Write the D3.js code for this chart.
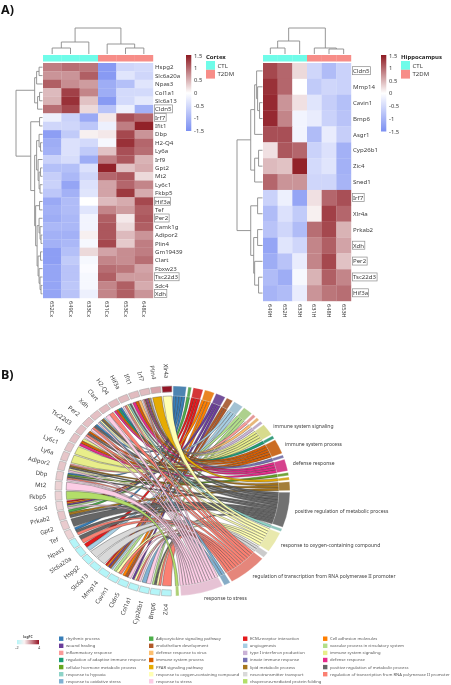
<!DOCTYPE html>
<html><head><meta charset="utf-8">
<script src="https://cdn.jsdelivr.net/npm/d3@7/dist/d3.min.js"></script>
<style>html,body{margin:0;padding:0;background:#fff}svg{display:block;filter:blur(.35px)}text{font-family:"Noto Sans","Open Sans",sans-serif}</style>
</head><body><svg id="c" width="451" height="685"></svg>
<script>
// ---------- Panel A data ----------
const cortexGenes=["Hspg2","Slc6a20a","Npas3","Col1a1","Slc6a13","Cldn5","Irf7","Ifit1","Dbp","H2-Q4","Ly6a","Irf9","Gpt2","Mt2","Ly6c1","Fkbp5","Hif3a","Tef","Per2","Camk1g","Adipor2","Plin4","Gm19439","Clart","Fbxw23","Tsc22d3","Sdc4","Xdh"];
const cortexSamples=["652Cx","649Cx","633Cx","631Cx","653Cx","648Cx"];
const cortexValues=[
[.85,.95,.9,-1.35,-.55,-.5],[.7,.7,1.05,-1.35,-.35,-.55],[1.05,.75,.65,-1.1,-.85,-.35],[.45,1.25,.8,-1.1,-.5,-.5],
[.5,1.35,.4,-1.35,-.5,-.3],[.95,1.2,.25,-.8,-.2,-1.05],[-.2,-.6,-1.15,.15,1.15,1],[-.55,-.55,-.75,-.2,.85,1.45],
[-1.3,-.7,.1,.15,1.2,.7],[-1.1,-.4,-.5,-.1,1.35,1],[-1.05,-.4,-.7,.4,1.15,.95],[-.6,-.45,-1.1,.85,1.1,.5],
[-.85,-.85,-.4,1.45,.4,.55],[-.65,-.95,-.55,1,1.1,.25],[-.6,-1.2,-.4,.6,1,.8],[-.75,-1.05,-.35,.6,1.3,.55],
[-1.15,-.9,0,.45,.55,1.2],[-1.05,-.9,-.35,.8,.65,1.05],[-1.1,-.95,-.15,1.05,.15,1.1],[-.95,-.95,-.15,1.1,.25,1.05],
[-1.05,-1.05,.1,1.1,.45,.7],[-1.05,-.95,-.1,1.2,.35,.85],[-1.3,-.85,.25,.6,.75,.85],[-1.3,-.7,-.1,.8,.75,.95],
[-1.2,-.8,-.05,.95,.9,.6],[-1.2,-.8,-.1,1.05,.65,.65],[-1.2,-.75,-.1,.8,1.05,.55],[-1.2,-.8,-.2,.8,1.05,.7]];
const cortexBoxed=["Cldn5","Irf7","Hif3a","Per2","Tsc22d3","Xdh"];
const hippoGenes=["Cldn5","Mmp14","Cavin1","Bmp6","Asgr1","Cyp26b1","Zic4","Sned1","Irf7","Xlr4a","Prkab2","Xdh","Per2","Tsc22d3","Hif3a"];
const hippoSamples=["649H","652H","633H","631H","648H","653H"];
const hippoValues=[
[1.2,1,.25,-.55,-.9,-.6],[1.35,1,0,-.7,-.55,-.6],[1.4,.7,.2,-.35,-.65,-.85],[1.4,.8,-.15,-.25,-.6,-.8],
[1.15,1.15,-.15,-.9,-.25,-.65],[.2,1.1,1,-.6,-.4,-1.05],[.45,.4,1.45,-.5,-.35,-1.05],[1,.7,.7,-.55,-.55,-1],
[-.6,-.2,-1.2,.2,1,1.15],[-.9,-.4,-.7,.1,1.25,1],[-.8,-.55,-.9,.95,1.2,.5],[-1.2,-.35,-.55,.8,1.05,.6],
[-1.1,-.8,-.25,.8,1.2,.4],[-.9,-1.1,-.1,.5,1.05,.8],[-1,-.9,-.25,.7,.9,.95]];
const hippoBoxed=["Cldn5","Irf7","Xdh","Per2","Tsc22d3","Hif3a"];
const groupNames=["CTL","T2DM"];
const colorbarTicks=[-1.5,-1,-.5,0,.5,1,1.5];
// dendrograms: [height, left, right]; 0 is a leaf, read in display order
const cortexColTree=[26,[12,[6,0,0],0],[10,0,[6,0,0]]];
const cortexRowTree=[27,
 [8,[6,[3.5,0,0],0],[5,[3,0,0],0]],
 [12,[3,0,0],
  [8,
   [6,[3.5,0,[2,0,0]],[4.5,0,[3.5,[2,0,0],[2.5,0,0]]]],
   [7,[3,0,0],[5.5,[3.5,0,[2.5,0,[1.5,0,0]]],[4.5,[2,0,0],[3.5,0,[2.5,0,[1.5,0,0]]]]]]]]];
const hippoColTree=[26,[13,[6,0,0],0],[6,0,[5,0,0]]];
const hippoRowTree=[26,
 [12,[8,[6,0,[5,0,[3,0,0]]],0],[8,[4,0,0],0]],
 [12,[5,0,0],[9,[5,0,0],[8,0,[4,0,0]]]]];

// ---------- Panel B data ----------
const chordGenes=["Xlr4a","Plin4","Irf7","Ifit1","Hif3a","H2-Q4","Clart","Xdh","Per2","Tsc22d3","Irf9","Ly6c1","Ly6a","Adipor2","Dbp","Mt2","Fkbp5","Sdc4","Prkab2","Gpt2","Tef","Npas3","Slc6a20a","Hspg2","Slc6a13","Mmp14","Cavin1","Cldn5","Col1a1","Cyp26b1","Bmp6","Zic4"];
const chordLogFC=[4,1.4,1,1,1,1,1,.9,.9,.9,.9,.8,.8,.8,.7,.6,.6,.5,.8,.7,.6,-2,-2,-2,-2,-2,-2,-2,-2,-2,-2,-2];
const termNames=["rhythmic process","Adipocytokine signaling pathway","ECM-receptor interaction","Cell adhesion molecules","wound healing","endothelium development","angiogenesis","vascular process in circulatory system","inflammatory response","defense response to virus","type I interferon production","immune system signaling","regulation of adaptive immune response","immune system process","innate immune response","defense response","cellular hormone metabolic process","PPAR signaling pathway","lipid metabolic process","positive regulation of metabolic process","response to hypoxia","response to oxygen-containing compound","neurotransmitter transport","regulation of transcription from RNA polymerase II promoter","response to oxidative stress","response to stress","chaperone-mediated protein folding"];
const termColors=["#377eb8","#4daf4a","#e41a1c","#ff7f00","#6a3d9a","#b15928","#a6cee3","#b2df8a","#fb9a99","#fdbf6f","#cab2d6","#e8ee8a","#1b9e77","#d95f02","#7570b3","#e7298a","#66a61e","#e6ab02","#a6761d","#666666","#8dd3c7","#ffffb3","#d9d9d9","#fb8072","#80b1d3","#fccde5","#b3de69"];
const labelledTerms=["immune system signaling","immune system process","defense response","positive regulation of metabolic process","response to oxygen-containing compound","regulation of transcription from RNA polymerase II promoter","response to stress"];
// term indices linked to each gene, same order as chordGenes
const geneTerms=[
[21],[17],[19,13,15,14,11,10,23,25],[15,9,13],[19,20,21,23,25],[0,13,12,15],[23,25],[18,19,21,24,25,6],
[0,19,23,25],[13,19,23,25],[11,13,15],[11],[11],[8,18,19,21,25],[0,16,19,23,25],[25],[26],[2,3,4,25,7],
[1,18,19],[19],[0,19,23],[19,23],[2,6],[22],[22],[2,4,5,6,3],[7,23,21],[3,5,25],[4,21,25,23],[24,25],[7,19,21,23],[23]];
const logFCTicks=[-2,4];

// ---------- Drawing ----------
const svg=d3.select("#c");
const heat=d3.scaleLinear().domain([-1.5,0,1.5]).range(["#7b8ff2","#ffffff","#8e1a22"]).clamp(true);
const groupColor=d3.scaleOrdinal(groupNames,["#6ffce9","#f78d88"]);
const groupOfCol=i=>groupNames[i<3?0:1];
const dendroColor="#8b8b8b", inkColor="#3c3c3c";

svg.append("text").attr("x",1).attr("y",14).attr("font-size",12.5).attr("font-weight",700).attr("fill","#111").text("A)");
svg.append("text").attr("x",1).attr("y",379).attr("font-size",12.5).attr("font-weight",700).attr("fill","#111").text("B)");

function dendro(g,tree,pos,hScale,vertical){
  let n=0;
  const path=d3.path();
  (function walk(node){
    if(node===0){return {p:pos(n++),h:0};}
    const a=walk(node[1]),b=walk(node[2]),H=hScale(node[0]);
    const ha=hScale(a.h),hb=hScale(b.h);
    if(vertical){path.moveTo(a.p,ha);path.lineTo(a.p,H);path.lineTo(b.p,H);path.lineTo(b.p,hb);}
    else{path.moveTo(ha,a.p);path.lineTo(H,a.p);path.lineTo(H,b.p);path.lineTo(hb,b.p);}
    return {p:(a.p+b.p)/2,h:node[0]};
  })(tree);
  g.append("path").attr("d",path.toString()).attr("fill","none").attr("stroke",dendroColor).attr("stroke-width",.9);
}

function heatmap(o){
  const g=svg.append("g");
  const x=d3.scaleBand().domain(d3.range(6)).range([o.x0,o.x1]);
  const y=d3.scaleBand().domain(d3.range(o.genes.length)).range([o.y0,o.y1]);
  g.selectAll("rect.cell").data(o.values.flatMap((r,i)=>r.map((v,j)=>({v,i,j})))).join("rect").attr("class","cell")
    .attr("x",d=>x(d.j)).attr("y",d=>y(d.i)).attr("width",x.bandwidth()+.2).attr("height",y.bandwidth()+.2).attr("fill",d=>heat(d.v));
  g.selectAll("rect.ann").data(d3.range(6)).join("rect").attr("class","ann")
    .attr("x",d=>x(d)).attr("y",55).attr("width",x.bandwidth()+.2).attr("height",6.5).attr("fill",d=>groupColor(groupOfCol(d)));
  const labels=g.selectAll("text.gene").data(o.genes).join("text").attr("class","gene")
    .attr("x",o.x1+2).attr("y",(d,i)=>y(i)+y.bandwidth()/2).attr("dy","0.35em")
    .attr("font-size",6.1).attr("fill",inkColor).text(d=>d);
  labels.each(function(d){
    if(!o.boxed.includes(d))return;
    const b=this.getBBox();
    g.append("rect").attr("x",b.x-.5).attr("y",b.y+.6).attr("width",b.width+1).attr("height",b.height-1)
      .attr("fill","none").attr("stroke","#8c8c8c").attr("stroke-width",.7);
  });
  g.selectAll("text.samp").data(o.samples).join("text").attr("class","samp")
    .attr("transform",(d,i)=>`translate(${x(i)+x.bandwidth()/2},${o.y1+3}) rotate(90)`).attr("dy","0.35em")
    .attr("font-size",5.6).attr("fill",inkColor).text(d=>d);
  const cPos=i=>x(i)+x.bandwidth()/2, rPos=i=>y(i)+y.bandwidth()/2;
  dendro(g,o.colTree,cPos,d3.scaleLinear().domain([0,26]).range([54,28]),true);
  dendro(g,o.rowTree,rPos,d3.scaleLinear().domain([0,o.rowTree[0]]).range([o.x0-.5,o.rowRoot]),false);
  const cb=d3.scaleLinear().domain([-1.5,1.5]).range([o.cbY1,55]);
  const id="cb"+o.title;
  const lg=svg.append("defs").append("linearGradient").attr("id",id).attr("x1",0).attr("x2",0).attr("y1",1).attr("y2",0);
  lg.selectAll("stop").data(d3.range(-1.5,1.51,.25)).join("stop")
    .attr("offset",d=>(d+1.5)/3).attr("stop-color",d=>heat(d));
  g.append("rect").attr("x",o.cbX).attr("y",55).attr("width",5.3).attr("height",o.cbY1-55).attr("fill",`url(#${id})`);
  g.selectAll("text.cbt").data(colorbarTicks).join("text").attr("class","cbt")
    .attr("x",o.cbX+8).attr("y",d=>cb(d)+(d===1.5?1:0)).attr("dy","0.35em").attr("font-size",5.9).attr("fill",inkColor).text(d=>d);
  g.append("text").attr("x",o.legX).attr("y",59).attr("font-size",6).attr("font-weight",700).attr("fill","#222").text(o.title);
  g.selectAll("rect.leg").data(groupNames).join("rect").attr("class","leg")
    .attr("x",o.legX).attr("y",(d,i)=>61+i*8.8).attr("width",9).attr("height",8.8).attr("fill",d=>groupColor(d));
  g.selectAll("text.leg").data(groupNames).join("text").attr("class","leg")
    .attr("x",o.legX+11.5).attr("y",(d,i)=>65.4+i*8.8).attr("dy","0.35em").attr("font-size",6).attr("fill",inkColor).text(d=>d);
}
heatmap({genes:cortexGenes,samples:cortexSamples,values:cortexValues,boxed:cortexBoxed,colTree:cortexColTree,rowTree:cortexRowTree,
  x0:43,x1:153,y0:63,y1:298,rowRoot:16,cbX:186,cbY1:131,legX:206,title:"Cortex"});
heatmap({genes:hippoGenes,samples:hippoSamples,values:hippoValues,boxed:hippoBoxed,colTree:hippoColTree,rowTree:hippoRowTree,
  x0:263,x1:351,y0:63,y1:301,rowRoot:237,cbX:381,cbY1:131.5,legX:401,title:"Hippocampus"});

// ---------- Chord ----------
const cx=172.5,cy=491,R=105,sx=117.5/105;
const deg=Math.PI/180;
const rRib=95,rGeneIn=99;
const chord=svg.append("g").attr("transform",`translate(${cx},${cy}) scale(${sx},1)`);
const geneAngle=d3.scaleBand().domain(d3.range(chordGenes.length)).range([359.7*deg,180.6*deg]).paddingInner(.13);
const fc=d3.scaleLinear().domain([-2,0,4]).range(["#b4f5f8","#fbf2f2","#941526"]);
const links=[];
chordGenes.forEach((g,i)=>geneTerms[i].forEach(t=>links.push({gene:i,term:t})));
const termCount=termNames.map((_,t)=>links.filter(l=>l.term===t).length);
const gapT=.9*deg,startT=.3*deg,endT=178.4*deg;
const unit=(endT-startT-gapT*(termNames.length-1))/d3.sum(termCount);
const termArc=[];let a0=startT;
termCount.forEach((c,t)=>{termArc[t]=[a0,a0+c*unit];a0+=c*unit+gapT;});
chordGenes.forEach((g,i)=>{
  const ls=links.filter(l=>l.gene===i).sort((p,q)=>q.term-p.term);
  const w=geneAngle.bandwidth(),a=Math.min(geneAngle(i),geneAngle(i)+w);
  const step=Math.abs(w)/ls.length;
  ls.forEach((l,k)=>{l.g0=a+k*step;l.g1=a+(k+1)*step;});
});
termNames.forEach((_,t)=>{
  const ls=links.filter(l=>l.term===t).sort((p,q)=>p.gene-q.gene);
  ls.forEach((l,k)=>{l.t0=termArc[t][0]+k*unit;l.t1=l.t0+unit;});
});
const ribbon=d3.ribbon();
chord.selectAll("path.rib").data(links.slice().sort((p,q)=>p.term-q.term)).join("path").attr("class","rib")
  .attr("d",l=>ribbon({source:{startAngle:l.g0,endAngle:l.g1,radius:rRib},target:{startAngle:l.t0,endAngle:l.t1,radius:rRib}}))
  .attr("fill",l=>termColors[l.term]).attr("stroke","#333").attr("stroke-width",.35).attr("vector-effect","non-scaling-stroke");
const arc=d3.arc();
chord.selectAll("path.term").data(termNames).join("path").attr("class","term")
  .attr("d",(d,t)=>arc({innerRadius:rRib,outerRadius:R,startAngle:termArc[t][0],endAngle:termArc[t][1]}))
  .attr("fill",(d,t)=>d3.interpolateRgb(termColors[t],"#999")(.22)).attr("stroke","#fff").attr("stroke-width",.3).attr("vector-effect","non-scaling-stroke");
chord.selectAll("path.geneBox").data(chordGenes).join("path").attr("class","geneBox")
  .attr("d",(d,i)=>arc({innerRadius:rGeneIn,outerRadius:R,startAngle:geneAngle(i),endAngle:geneAngle(i)+geneAngle.bandwidth()}))
  .attr("fill",(d,i)=>fc(chordLogFC[i])).attr("stroke","#a8a8a8").attr("stroke-width",.6).attr("vector-effect","non-scaling-stroke");
svg.selectAll("text.cg").data(chordGenes).join("text").attr("class","cg")
  .attr("transform",(d,i)=>{
    const a=geneAngle(i)+geneAngle.bandwidth()/2;
    const px=cx+(R+8)*sx*Math.sin(a),py=cy-(R+8)*Math.cos(a);
    const rot=Math.atan2(cy-py,cx-px)/deg;
    return `translate(${px},${py}) rotate(${rot})`;
  }).attr("text-anchor","end").attr("dy","0.35em").attr("font-size",6).attr("fill",inkColor).text(d=>d);
svg.selectAll("text.tl").data(labelledTerms).join("text").attr("class","tl")
  .attr("x",d=>{const t=termNames.indexOf(d),a=(termArc[t][0]+termArc[t][1])/2;return cx+(R+6)*sx*Math.sin(a);})
  .attr("y",d=>{const t=termNames.indexOf(d),a=(termArc[t][0]+termArc[t][1])/2;return cy-(R+6)*Math.cos(a);})
  .attr("dy","0.35em").attr("font-size",5).attr("fill",inkColor).text(d=>d);

// ---------- Legends, panel B ----------
const legCols=[59,149,243,323];
const leg=svg.append("g");
leg.selectAll("rect").data(termNames).join("rect")
  .attr("x",(d,i)=>legCols[i%4]).attr("y",(d,i)=>636.5+Math.floor(i/4)*7.1).attr("width",4.4).attr("height",4.4)
  .attr("fill",(d,i)=>termColors[i]);
leg.selectAll("text").data(termNames).join("text")
  .attr("x",(d,i)=>legCols[i%4]+7).attr("y",(d,i)=>638.7+Math.floor(i/4)*7.1).attr("dy","0.35em")
  .attr("font-size",4.2).attr("fill","#555").text(d=>d);
const fcX=d3.scaleLinear().domain([-2,4]).range([17,39]);
const fg=svg.append("defs").append("linearGradient").attr("id","fcg");
fg.selectAll("stop").data([-2,-1,0,1,2,3,4]).join("stop").attr("offset",d=>(d+2)/6).attr("stop-color",d=>fc(d));
leg.append("rect").attr("x",fcX(-2)).attr("y",640).attr("width",fcX(4)-fcX(-2)).attr("height",4.3).attr("fill","url(#fcg)");
leg.append("text").attr("x",28).attr("y",638).attr("text-anchor","middle").attr("font-size",3.4).attr("font-weight",700).attr("fill","#444").text("logFC");
leg.selectAll("text.ft").data(logFCTicks).join("text").attr("class","ft").attr("x",d=>fcX(d)).attr("y",649)
  .attr("text-anchor","middle").attr("font-size",3.8).attr("fill","#444").text(d=>d);
</script></body></html>
